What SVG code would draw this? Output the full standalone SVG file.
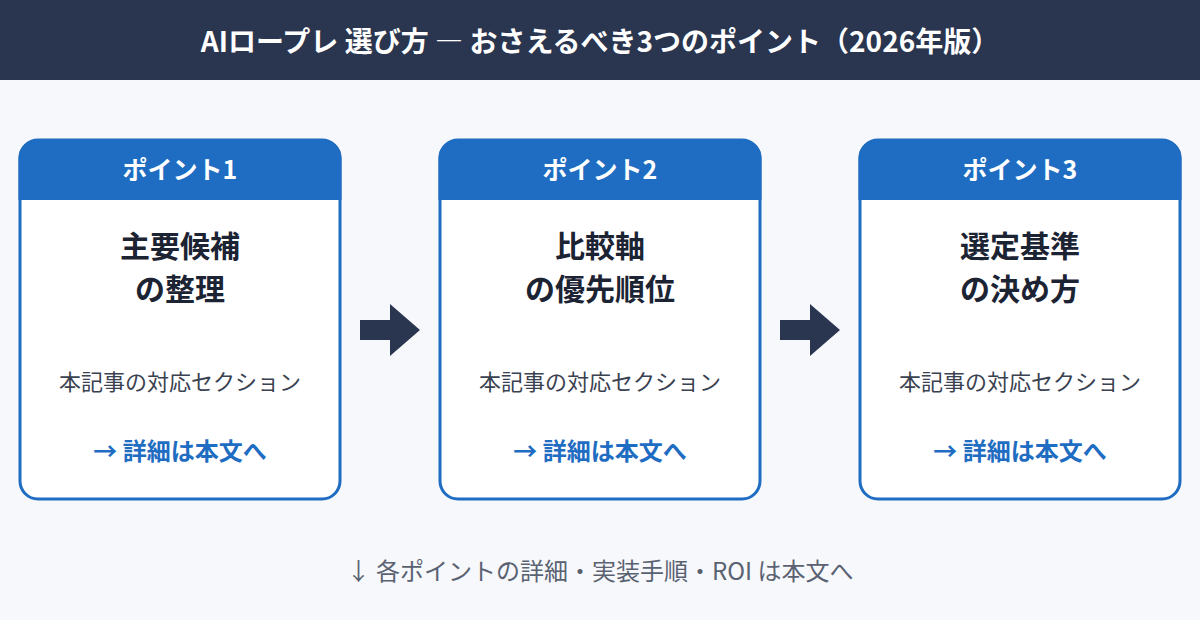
<svg xmlns="http://www.w3.org/2000/svg" width="1200" height="620" viewBox="0 0 1200 620">
<defs><style>
text{font-family:"Noto Sans CJK JP","Noto Sans",sans-serif;text-anchor:middle}
.card{fill:#fff;stroke:#1f6dc2;stroke-width:3}
.hd{fill:#1f6dc2}
.ht{fill:#fff;font-size:25px;font-weight:700}
.tt{fill:#1c2333;font-size:30px;font-weight:700}
.sub{fill:#3a4150;font-size:22px}
.lnk{fill:#1f6dc2;font-size:24px;font-weight:700}
.arr{fill:#2a3550}
</style></defs>
<rect width="1200" height="620" fill="#f6f8fb"/>
<rect width="1200" height="80" fill="#2a3550"/>
<text x="600" y="52" fill="#fff" font-size="28" font-weight="700">AIロープレ 選び方 ― おさえるべき3つのポイント（2026年版）</text>
<g id="node1">
<rect class="card" x="20" y="140" width="320" height="359" rx="18"/>
<path class="hd" d="M18.5 200V158a18 18 0 0 1 18-18h287a18 18 0 0 1 18 18v42z"/>
<text class="ht" x="180" y="179">ポイント1</text>
<text class="tt" x="180" y="257">主要候補</text><text class="tt" x="180" y="300">の整理</text>
<text class="sub" x="180" y="390">本記事の対応セクション</text>
<text class="lnk" x="180" y="460">→ 詳細は本文へ</text>
</g>
<g id="node2">
<rect class="card" x="440" y="140" width="320" height="359" rx="18"/>
<path class="hd" d="M438.5 200V158a18 18 0 0 1 18-18h287a18 18 0 0 1 18 18v42z"/>
<text class="ht" x="600" y="179">ポイント2</text>
<text class="tt" x="600" y="257">比較軸</text><text class="tt" x="600" y="300">の優先順位</text>
<text class="sub" x="600" y="390">本記事の対応セクション</text>
<text class="lnk" x="600" y="460">→ 詳細は本文へ</text>
</g>
<g id="node3">
<rect class="card" x="860" y="140" width="320" height="359" rx="18"/>
<path class="hd" d="M858.5 200V158a18 18 0 0 1 18-18h287a18 18 0 0 1 18 18v42z"/>
<text class="ht" x="1020" y="179">ポイント3</text>
<text class="tt" x="1020" y="257">選定基準</text><text class="tt" x="1020" y="300">の決め方</text>
<text class="sub" x="1020" y="390">本記事の対応セクション</text>
<text class="lnk" x="1020" y="460">→ 詳細は本文へ</text>
</g>
<g id="connectors">
<path class="arr" d="M360 320h30v-16l30 26-30 26v-16h-30z"/>
<path class="arr" d="M780 320h30v-16l30 26-30 26v-16h-30z"/>
</g>
<text x="600" y="580" fill="#5a6272" font-size="24">↓ 各ポイントの詳細・実装手順・ROI は本文へ</text>
</svg>
